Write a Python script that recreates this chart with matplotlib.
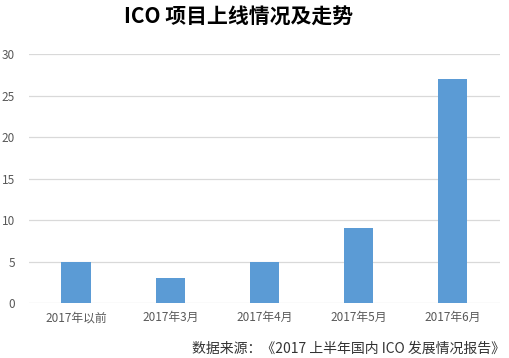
import matplotlib.pyplot as plt

plt.rcParams['font.family'] = ['Noto Sans CJK SC', 'DejaVu Sans']

# data
categories = ['2017年以前', '2017年3月', '2017年4月', '2017年5月', '2017年6月']
counts = [5, 3, 5, 9, 27]
y_ticks = [0, 5, 10, 15, 20, 25, 30]

fig = plt.figure(figsize=(5.09, 3.58), dpi=100)
ax = fig.add_axes([0.057, 0.1536, 0.925, 0.6954])

ax.bar(range(len(categories)), counts, width=0.31, color='#5B9BD5', zorder=3)
ax.set_xlim(-0.5, len(categories) - 0.5)
ax.set_ylim(0, 30)
ax.set_yticks(y_ticks)
ax.set_xticks(range(len(categories)))
ax.set_xticklabels(categories)
ax.grid(axis='y', color='#D9D9D9', linewidth=0.9, zorder=0)
for s in ax.spines.values():
    s.set_visible(False)
ax.tick_params(length=0, colors='#595959', labelsize=8.5)
ax.tick_params(axis='y', pad=10)
ax.tick_params(axis='x', pad=6)

fig.text(0.468, 0.955, 'ICO 项目上线情况及走势', ha='center', va='center',
         fontsize=15, fontweight='bold', color='black')
fig.text(0.992, 0.025, '数据来源：《2017 上半年国内 ICO 发展情况报告》', ha='right', va='center',
         fontsize=10, style='italic', color='#333333')

fig.savefig('out.png', dpi=100)
